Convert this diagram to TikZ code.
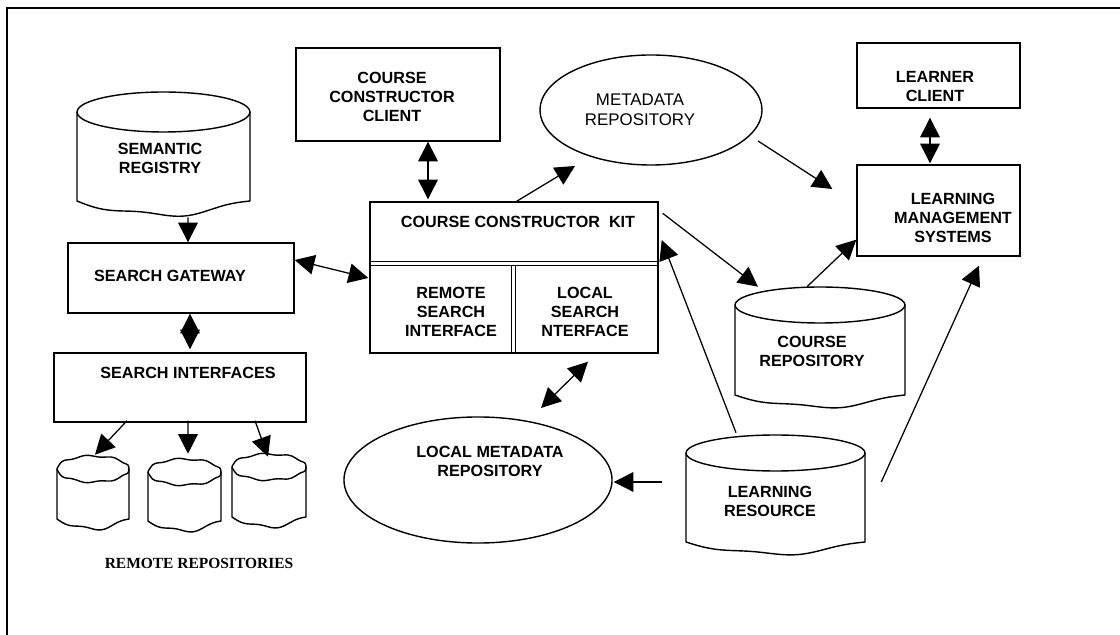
\documentclass[tikz,border=0pt]{standalone}
\usepackage{fontspec}
\setmainfont{Liberation Sans}
\newfontfamily\timesfont{Liberation Serif}
\usetikzlibrary{arrows.meta,shapes.geometric,fit,calc}
\newcommand{\drawcan}[8]{%
  \pgfmathsetmacro{\canx}{(#1+#2)/2}%
  \pgfmathsetmacro{\cana}{(#2-#1)/2}%
  \pgfmathsetmacro{\cany}{#3+#4}%
  \draw[canline] plot[smooth cycle, samples=48, domain=0:352.5, variable=\t]
     ({\canx+\cana*cos(\t)}, {\cany+#4*sin(\t)+#7*sin(8*\t)});
  \draw[canline] (#1,\cany) -- (#1,#5) -- plot[smooth, samples=41, domain=0:1, variable=\t]
     ({#1+\t*(#2-#1)}, {#5+#6*sin(180*\t)+#8*sin(720*\t)}) -- (#2,\cany);
}
\begin{document}
\begin{tikzpicture}[x=0.025cm,y=-0.025cm,
  box/.style={draw, line width=1pt, inner sep=0pt},
  canline/.style={line width=1pt, line join=round},
  shp/.style={inner sep=0pt},
  lbl/.style={font=\bfseries\fontsize{11.5}{13.5}\selectfont, align=center, inner sep=0pt},
  plbl/.style={font=\fontsize{12}{14}\selectfont, align=center, inner sep=0pt},
  arr/.style={-{Triangle[length=14pt,width=14pt]}, line width=0.9pt},
  darr/.style={{Triangle[length=14pt,width=14pt]}-{Triangle[length=14pt,width=14pt]}, line width=0.9pt},
  ell/.style={draw, ellipse, line width=1pt, inner sep=0pt}]
\useasboundingbox (0,0) rectangle (1120,635);
% frame
\draw[line width=1.3pt] (7,635) -- (7,8) -- (1120,8);

% ---- left column ----
\drawcan{77}{250}{92}{20}{201}{14}{0}{2}
\node[shp, fit={(77,92) (250,215)}] (sr) {};
\node[lbl] (srt) at (160,158) {SEMANTIC\\REGISTRY};

\node[box, fit={(68,243) (294,313)}] (sg) {};
\node[lbl] (sgt) at (170,276) {SEARCH GATEWAY};

\node[box, fit={(54,353) (306,422)}] (si) {};
\node[lbl] (sit) at (188,373) {SEARCH INTERFACES};

\drawcan{57}{129}{456}{13}{519}{10}{0.9}{1.5}
\node[shp, fit={(57,456) (129,529)}] (r1) {};
\drawcan{148}{221}{459}{13}{521}{10}{0.9}{1.5}
\node[shp, fit={(148,459) (221,531)}] (r2) {};
\drawcan{232}{306}{454}{13}{517}{10}{0.9}{1.5}
\node[shp, fit={(232,454) (306,527)}] (r3) {};

\node[font=\timesfont\bfseries\fontsize{11}{13}\selectfont, inner sep=0pt] (rr) at (199,563) {REMOTE REPOSITORIES};

% ---- centre ----
\node[box, fit={(296,48) (500,141)}] (ccc) {};
\node[lbl] (ccct) at (392,97) {COURSE\\CONSTRUCTOR\\CLIENT};

\node[box, fit={(370,202) (658,353)}] (cck) {};
\draw[line width=1pt] ($(cck.north west)+(0,60)$) -- ($(cck.north east)+(0,60)$);
\draw[line width=1pt] ($(cck.north west)+(0,64)$) -- ($(cck.north east)+(0,64)$);
\draw[line width=1pt] ($(cck.north west)+(142,64)$) -- ($(cck.south west)+(142,0)$);
\draw[line width=1pt] ($(cck.north west)+(146,64)$) -- ($(cck.south west)+(146,0)$);
\node[lbl] (cckt) at (518,222) {COURSE CONSTRUCTOR\ \ KIT};
\node[lbl] (rsi) at (451,312) {REMOTE\\SEARCH\\INTERFACE};
\node[lbl] (lsi) at (585,312) {LOCAL\\SEARCH\\NTERFACE};

\node[ell, minimum width=5.55cm, minimum height=2.75cm] (md) at (651,110) {};
\node[plbl] (mdt) at (640,110) {METADATA\\REPOSITORY};

\node[ell, minimum width=6.7cm, minimum height=3.15cm] (lmd) at (478,480) {};
\node[lbl] (lmdt) at (490,461) {LOCAL METADATA\\REPOSITORY};

% ---- right ----
\node[box, fit={(857,43) (1020,108)}] (lc) {};
\node[lbl] (lct) at (935,87) {LEARNER\\CLIENT};

\node[box, fit={(857,165) (1020,256)}] (lms) {};
\node[lbl] (lmst) at (953,218) {LEARNING\\MANAGEMENT\\SYSTEMS};

\drawcan{735}{905}{287}{18}{395}{12}{0}{1.5}
\node[shp, fit={(735,287) (905,407)}] (cr) {};
\node[lbl] (crt) at (812,351) {COURSE\\REPOSITORY};

\drawcan{686}{865}{435}{18}{542}{12}{0}{1.5}
\node[shp, fit={(686,435) (865,553)}] (lr) {};
\node[lbl] (lrt) at (770,501) {LEARNING\\RESOURCE};

% ---- connectors ----
\draw[arr]  ($(sr.south)+(24.5,2)$) -- ($(sg.north)+(7,0)$);
\draw[darr] ($(sg.south)+(9,0)$) -- ($(si.north)+(10,-3)$);
\draw[darr] ($(sg.east)+(0,-18)$) -- ($(cck.west)+(-1,0.5)$);
\draw[darr] ($(ccc.south)+(30,0)$) -- ($(cck.north)+(-86,-2)$);
\draw[arr]  ($(cck.north)+(1,1)$) -- ($(md)+(-76,56)$);
\draw[arr]  ($(md)+(107,31)$) -- ($(lms.west)+(-24,-21.5)$);
\draw[darr] ($(lc.south)+(-8.5,9)$) -- ($(lms.north)+(-8.5,-1)$);
\draw[arr]  ($(cck.north east)+(4,12)$) -- ($(cr.north)+(-62,0)$);
\draw[arr]  ($(cr.north)+(-13,0)$) -- ($(lms.south west)+(0,-17)$);
\draw[arr]  ($(lr.east)+(16,-12)$) -- ($(lms.south)+(40.5,9)$);
\draw[arr]  ($(lr.north)+(-39.5,-2)$) -- ($(cck.east)+(3,-37.5)$);
\draw[arr]  ($(lr.west)+(-24,-12)$) -- ($(lmd.east)+(1,2)$);
\draw[darr] ($(cck.south)+(74,8)$) -- ($(lmd)+(63,-72)$);
\draw[arr]  ($(si.south)+(-53,-2)$) -- ($(r1.north)+(2,-1)$);
\draw[arr]  ($(si.south)+(8,-2)$) -- ($(r2.north)+(3.5,-5)$);
\draw[arr]  ($(si.south)+(75,-2)$) -- ($(r3.north)+(-1,3)$);
\end{tikzpicture}
\end{document}
